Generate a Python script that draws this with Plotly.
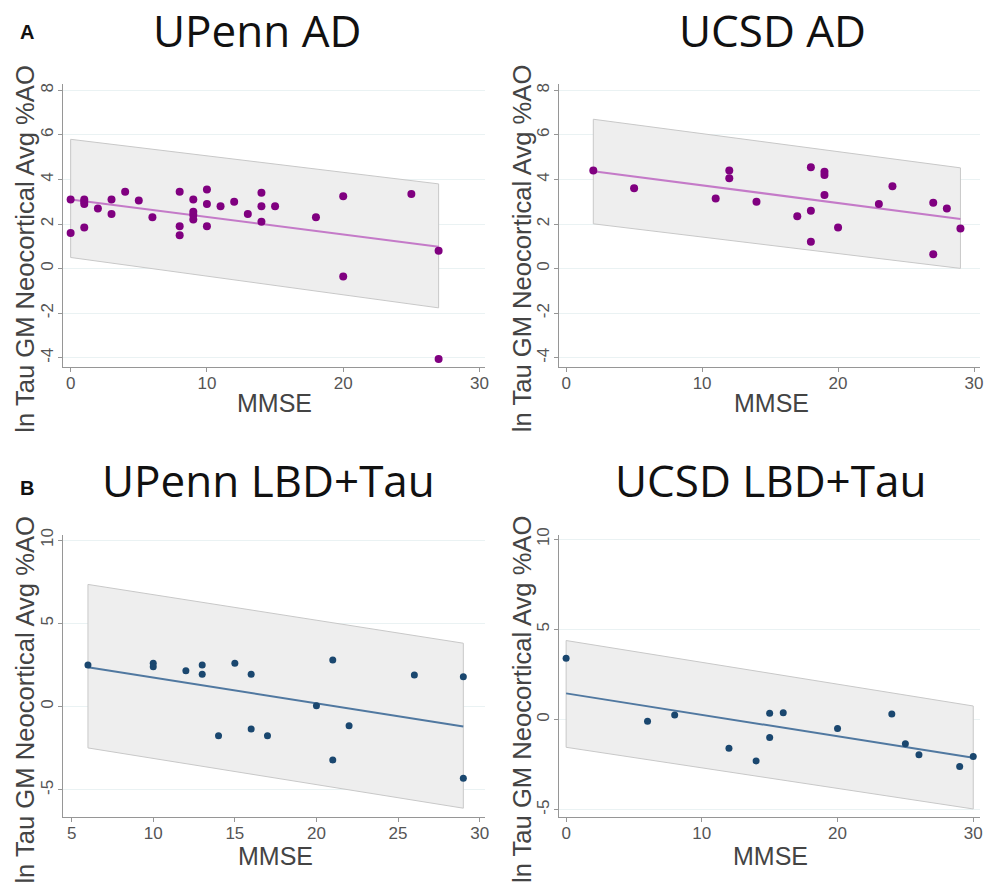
import plotly.graph_objects as go

# ---------------- data ----------------
# Panel A, UPenn AD
upenn_ad_mmse = [0, 0, 1, 1, 1, 1, 2, 3, 3, 4, 5, 6, 8, 8, 8, 9, 9, 9, 9, 10, 10, 10,
                 11, 12, 13, 14, 14, 14, 15, 18, 20, 20, 25, 27, 27]
upenn_ad_tau = [3.1, 1.6, 3.1, 3.0, 2.9, 1.85, 2.7, 3.1, 2.45, 3.45, 3.05, 2.3, 3.45, 1.9, 1.5,
                3.1, 2.55, 2.4, 2.2, 3.55, 2.9, 1.9, 2.8, 3.0, 2.45, 3.4, 2.8, 2.1, 2.8,
                2.3, 3.25, -0.35, 3.35, 0.8, -4.05]
upenn_ad_fit_x = [0, 27]
upenn_ad_fit_y = [3.1, 0.98]
upenn_ad_ci_lo = [0.5, -1.76]
upenn_ad_ci_hi = [5.8, 3.8]

# Panel A, UCSD AD
ucsd_ad_mmse = [2, 5, 11, 12, 12, 14, 17, 18, 18, 18, 19, 19, 19, 20, 23, 24, 27, 27, 28, 29]
ucsd_ad_tau = [4.4, 3.6, 3.15, 4.4, 4.05, 3.0, 2.35, 4.55, 2.6, 1.2, 4.35, 4.2, 3.3, 1.85,
               2.9, 3.7, 2.95, 0.65, 2.7, 1.8]
ucsd_ad_fit_x = [2, 29]
ucsd_ad_fit_y = [4.37, 2.23]
ucsd_ad_ci_lo = [2.01, 0.01]
ucsd_ad_ci_hi = [6.7, 4.52]

# Panel B, UPenn LBD+Tau
upenn_lbd_mmse = [6, 10, 10, 12, 13, 13, 14, 15, 16, 16, 17, 20, 21, 21, 22, 26, 29, 29]
upenn_lbd_tau = [2.5, 2.6, 2.4, 2.15, 2.5, 1.95, -1.75, 2.6, 1.95, -1.35, -1.75, 0.05,
                 2.8, -3.2, -1.15, 1.9, 1.8, -4.3]
upenn_lbd_fit_x = [6, 29]
upenn_lbd_fit_y = [2.36, -1.19]
upenn_lbd_ci_lo = [-2.48, -6.1]
upenn_lbd_ci_hi = [7.34, 3.81]

# Panel B, UCSD LBD+Tau
ucsd_lbd_mmse = [0, 6, 8, 12, 14, 15, 15, 16, 20, 24, 25, 26, 29, 30]
ucsd_lbd_tau = [3.4, -0.1, 0.25, -1.6, -2.3, 0.35, -1.0, 0.38, -0.5, 0.3, -1.35, -1.95,
                -2.6, -2.05]
ucsd_lbd_fit_x = [0, 30]
ucsd_lbd_fit_y = [1.45, -2.12]
ucsd_lbd_ci_lo = [-1.54, -4.96]
ucsd_lbd_ci_hi = [4.38, 0.75]

titles = ["UPenn AD", "UCSD AD", "UPenn LBD+Tau", "UCSD LBD+Tau"]
panel_letters = ["A", "B"]
x_title = "MMSE"
y_title = "ln Tau GM Neocortical Avg %AO"
ad_yticks = [-4, -2, 0, 2, 4, 6, 8]
ad_yticklabels = ["-4", "-2", "0", "2", "4", "6", "8"]
lbd_yticks = [-5, 0, 5, 10]
lbd_yticklabels = ["-5", "0", "5", "10"]
xticks_0_30 = [0, 10, 20, 30]
xticks_5_30 = [5, 10, 15, 20, 25, 30]

# ---------------- styles ----------------
W, H = 990, 886
PURPLE = "rgb(128,0,128)"
PURPLE_LINE = "rgb(196,122,200)"
NAVY = "rgb(26,71,111)"
NAVY_LINE = "rgb(80,120,160)"
BAND_FILL = "rgb(238,238,238)"
BAND_LINE = "rgb(200,200,200)"
GRID = "rgb(234,242,243)"
AXIS = "rgb(150,150,150)"

panels = [
    dict(x=upenn_ad_mmse, y=upenn_ad_tau, fx=upenn_ad_fit_x, fy=upenn_ad_fit_y,
         lo=upenn_ad_ci_lo, hi=upenn_ad_ci_hi, mc=PURPLE, lc=PURPLE_LINE, ms=8),
    dict(x=ucsd_ad_mmse, y=ucsd_ad_tau, fx=ucsd_ad_fit_x, fy=ucsd_ad_fit_y,
         lo=ucsd_ad_ci_lo, hi=ucsd_ad_ci_hi, mc=PURPLE, lc=PURPLE_LINE, ms=8),
    dict(x=upenn_lbd_mmse, y=upenn_lbd_tau, fx=upenn_lbd_fit_x, fy=upenn_lbd_fit_y,
         lo=upenn_lbd_ci_lo, hi=upenn_lbd_ci_hi, mc=NAVY, lc=NAVY_LINE, ms=7),
    dict(x=ucsd_lbd_mmse, y=ucsd_lbd_tau, fx=ucsd_lbd_fit_x, fy=ucsd_lbd_fit_y,
         lo=ucsd_lbd_ci_lo, hi=ucsd_lbd_ci_hi, mc=NAVY, lc=NAVY_LINE, ms=7),
]

# pixel geometry of the four plot areas (left, right, top, bottom)
boxes = [(63, 487, 77, 362), (562, 985, 77, 362), (63, 487, 532, 816), (562, 985, 532, 816)]
xranges = [[-0.584, 30.37], [-0.511, 30.44], [4.451, 30.30], [-0.512, 30.5]]
yranges = [[-4.4, 8.267], [-4.4, 8.267], [-6.607, 10.298], [-5.385, 10.22]]
xtickv = [xticks_0_30, xticks_0_30, xticks_5_30, xticks_0_30]
ytickv = [ad_yticks, ad_yticks, lbd_yticks, lbd_yticks]
ytickt = [ad_yticklabels, ad_yticklabels, lbd_yticklabels, lbd_yticklabels]

fig = go.Figure()
layout_axes = {}
for i, p in enumerate(panels):
    n = "" if i == 0 else str(i + 1)
    xa, ya = "x" + n, "y" + n
    # prediction band
    fig.add_trace(go.Scatter(
        x=[p["fx"][0], p["fx"][1], p["fx"][1], p["fx"][0], p["fx"][0]],
        y=[p["lo"][0], p["lo"][1], p["hi"][1], p["hi"][0], p["lo"][0]],
        fill="toself", fillcolor=BAND_FILL, mode="lines",
        line=dict(color=BAND_LINE, width=1), hoverinfo="skip",
        showlegend=False, xaxis=xa, yaxis=ya))
    # fitted line
    fig.add_trace(go.Scatter(x=p["fx"], y=p["fy"], mode="lines",
                             line=dict(color=p["lc"], width=2),
                             showlegend=False, xaxis=xa, yaxis=ya))
    # points
    fig.add_trace(go.Scatter(x=p["x"], y=p["y"], mode="markers",
                             marker=dict(color=p["mc"], size=p["ms"]),
                             showlegend=False, xaxis=xa, yaxis=ya))
    l, r, t, b = boxes[i]
    common = dict(showline=True, linecolor=AXIS, linewidth=1.2, ticks="outside",
                  ticklen=4, tickcolor=AXIS, tickwidth=1, zeroline=False,
                  tickfont=dict(family="Liberation Sans, Arial", size=17, color="#555555"))
    layout_axes["xaxis" + n] = dict(domain=[l / W, r / W], range=xranges[i],
                                    anchor=ya, tickvals=xtickv[i], showgrid=False,
                                    ticklabelstandoff=-3, **common)
    layout_axes["yaxis" + n] = dict(domain=[1 - b / H, 1 - t / H], range=yranges[i],
                                    anchor=xa, tickvals=ytickv[i], ticktext=ytickt[i],
                                    showgrid=True, gridcolor=GRID, gridwidth=1,
                                    tickangle=-90, ticklabelstandoff=-2, **common)

annotations = []
# panel titles
title_pos = [(258, 22), (776, 22), (270, 476), (774, 476)]
for txt, (px, py) in zip(titles, title_pos):
    annotations.append(dict(text=txt, x=px / W, y=1 - py / H, xref="paper", yref="paper",
                            showarrow=False, xanchor="center", yanchor="middle",
                            font=dict(family="Open Sans", size=44, color="#111111")))
# panel letters
for txt, py in zip(panel_letters, [24, 484]):
    annotations.append(dict(text="<b>%s</b>" % txt, x=27 / W, y=1 - py / H, xref="paper",
                            yref="paper", showarrow=False, xanchor="center", yanchor="middle",
                            font=dict(family="Liberation Sans, Arial", size=20, color="#111111")))
# axis titles
for px, py in [(276, 399), (775, 399), (277, 856), (774, 856)]:
    annotations.append(dict(text=x_title, x=px / W, y=1 - py / H, xref="paper", yref="paper",
                            showarrow=False, xanchor="center", yanchor="middle",
                            font=dict(family="Liberation Sans, Arial", size=25, color="#444444")))
for px, py in [(25, 243), (524, 243), (25, 698), (524, 698)]:
    annotations.append(dict(text=y_title, x=px / W, y=1 - py / H, xref="paper", yref="paper",
                            showarrow=False, xanchor="center", yanchor="middle", textangle=-90,
                            font=dict(family="Liberation Sans, Arial", size=25.6, color="#444444")))

fig.update_layout(width=W, height=H, margin=dict(l=0, r=0, t=0, b=0),
                  paper_bgcolor="white", plot_bgcolor="white",
                  annotations=annotations, **layout_axes)

fig.write_html("out.html", config={"displayModeBar": False},
               post_script="document.body.style.margin='0';document.body.style.overflow='hidden';")
